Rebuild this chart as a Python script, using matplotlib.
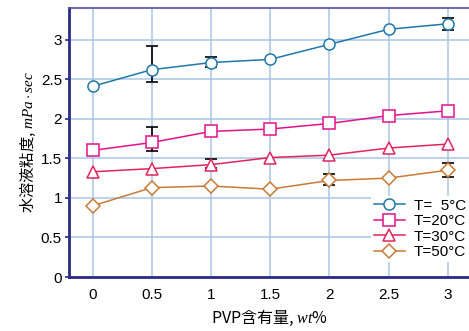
import matplotlib
matplotlib.use('Agg')
import matplotlib.pyplot as plt

plt.rcParams['font.family'] = ['Liberation Sans', 'Noto Sans CJK JP', 'DejaVu Sans']
plt.rcParams['mathtext.fontset'] = 'custom'
plt.rcParams['mathtext.rm'] = 'Noto Sans CJK JP'
plt.rcParams['mathtext.it'] = 'Liberation Serif:italic'

# data
pvp = [0, 0.5, 1, 1.5, 2, 2.5, 3]
labels = ['T=  5°C', 'T=20°C', 'T=30°C', 'T=50°C']
t5 = [2.41, 2.62, 2.71, 2.75, 2.94, 3.13, 3.20]
t20 = [1.60, 1.70, 1.84, 1.87, 1.94, 2.04, 2.10]
t30 = [1.33, 1.37, 1.42, 1.51, 1.54, 1.63, 1.68]
t50 = [0.90, 1.13, 1.15, 1.11, 1.22, 1.25, 1.35]

# error bars (x, centre, lower, upper)
err_x = [0.5, 1, 3, 0.5, 1, 2, 3]
err_y = [2.62, 2.71, 3.20, 1.70, 1.42, 1.22, 1.35]
err_lo = [0.16, 0.06, 0.08, 0.11, 0.04, 0.06, 0.09]
err_hi = [0.30, 0.07, 0.07, 0.20, 0.07, 0.08, 0.09]

colors = ['#1f78aa', '#e4118a', '#e2245e', '#c97a35']
markers = ['o', 's', '^', 'D']
sizes = [8, 8, 9, 7]

fig = plt.figure(figsize=(4.69, 3.31), dpi=100)
ax = fig.add_axes([0.147, 0.163, 0.853, 0.813])

ax.errorbar(err_x, err_y, yerr=[err_lo, err_hi], fmt='none', ecolor='black',
            elinewidth=1.2, capsize=4, capthick=1.2, zorder=3)

for ys, c, m, s, lab in zip([t5, t20, t30, t50], colors, markers, sizes, labels):
    ax.plot(pvp, ys, color=c, marker=m, markersize=s, markerfacecolor='white',
            markeredgecolor=c, markeredgewidth=1.1, linewidth=1.1, label=lab, zorder=4)

ax.set_xlim(-0.2, 3.18)
ax.set_ylim(0, 3.4)
ax.set_xticks(pvp)
ax.set_xticklabels(['0', '0.5', '1', '1.5', '2', '2.5', '3'])
ax.set_yticks([0, 0.5, 1, 1.5, 2, 2.5, 3])
ax.set_yticklabels(['0', '0.5', '1', '1.5', '2', '2.5', '3'])
ax.tick_params(axis='both', labelsize=11, color='#2a2a80')
ax.tick_params(axis='x', length=0, pad=8)
ax.tick_params(axis='y', direction='out', length=3, width=1.2, pad=2)

ax.grid(True, color='#a9c6e6', linewidth=1.1)
ax.set_axisbelow(True)

for side in ['left', 'bottom']:
    ax.spines[side].set_color('#2b2b86')
    ax.spines[side].set_linewidth(2)
ax.spines['top'].set_color('#5050a8')
ax.spines['top'].set_linewidth(1.2)
ax.spines['right'].set_visible(False)

ax.set_xlabel(r'PVP含有量, $\mathit{wt\%}$', fontsize=11.5, labelpad=4,
              family='Noto Sans CJK JP')
ax.set_ylabel(r'水溶液粘度, $mPa\cdot sec$', fontsize=11, labelpad=2,
              family='Noto Sans CJK JP')

leg = ax.legend(loc='lower right', bbox_to_anchor=(1.0, 0.055), frameon=True,
                fontsize=11, handlelength=2.0, handletextpad=0.6,
                labelspacing=0.1, borderpad=0.2, borderaxespad=0.0, fancybox=False)
leg.get_frame().set_edgecolor('none')
leg.get_frame().set_facecolor('white')
leg.get_frame().set_alpha(1)

fig.savefig('out.png', dpi=100)
